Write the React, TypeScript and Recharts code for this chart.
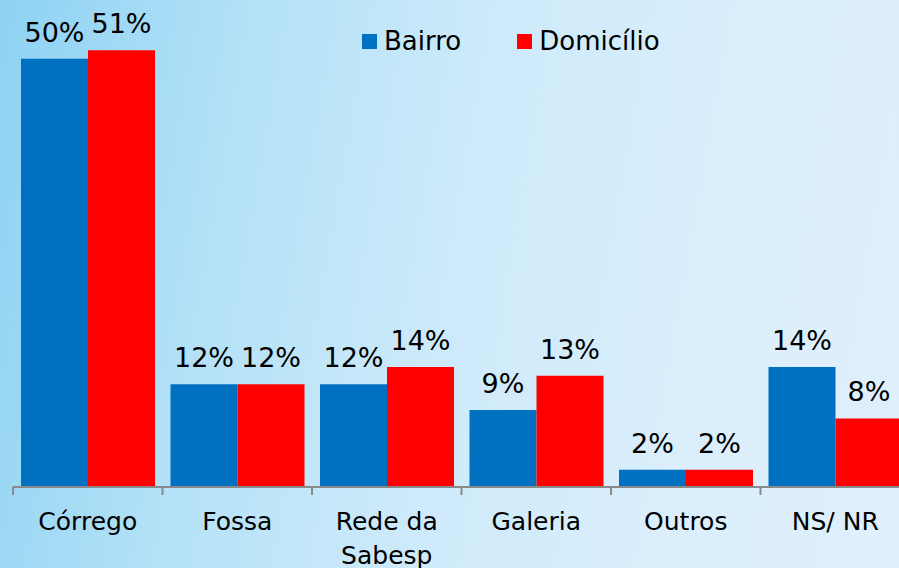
import { BarChart, Bar, XAxis, YAxis, Legend, LabelList } from 'recharts';

const categories = ['Córrego', 'Fossa', 'Rede da Sabesp', 'Galeria', 'Outros', 'NS/ NR'];
const bairro = [50, 12, 12, 9, 2, 14];
const domicilio = [51, 12, 14, 13, 2, 8];
const seriesNames = ['Bairro', 'Domicílio'];
const seriesColors = ['#0070C0', '#FF0000'];

const data = categories.map((name, i) => ({ name, bairro: bairro[i], domicilio: domicilio[i] }));

const FONT = '"DejaVu Sans", Verdana, sans-serif';
const AXIS = '#8a8a8a';

function wrap(text: string, max = 8) {
  const lines: string[] = [];
  let cur = '';
  for (const w of text.split(' ')) {
    const next = cur ? `${cur} ${w}` : w;
    if (next.length > max && cur) {
      lines.push(cur);
      cur = w;
    } else cur = next;
  }
  if (cur) lines.push(cur);
  return lines;
}

// tick marks sit on the category boundaries, labels in the middle
function CategoryTick({ x, y, payload }: any) {
  const lines = wrap(String(payload.value));
  const half = payload.offset || 74.75;
  const bx = x - half;
  return (
    <g>
      <line x1={bx} x2={bx} y1={y - 8} y2={y} stroke={AXIS} strokeWidth={2} />
      <text x={x} y={y} textAnchor="middle" fill="#000" fontSize={25} fontFamily={FONT}>
        {lines.map((l, i) => (
          <tspan key={l} x={x} dy={i === 0 ? 35 : 34}>{l}</tspan>
        ))}
      </text>
    </g>
  );
}

function LegendBox() {
  return (
    <div style={{ display: 'flex', alignItems: 'center', fontFamily: FONT, fontSize: 26, color: '#000' }}>
      {seriesNames.map((n, i) => (
        <div key={n} style={{ display: 'flex', alignItems: 'center', marginRight: i === 0 ? 56 : 0 }}>
          <span style={{ width: 15, height: 15, background: seriesColors[i], display: 'inline-block', marginRight: 7 }} />
          <span>{n}</span>
        </div>
      ))}
    </div>
  );
}

export default function App() {
  return (
    <div
      style={{
        position: 'absolute', left: 0, top: 0, width: 899, height: 568, overflow: 'hidden',
        background: 'linear-gradient(100deg, #8ed2f3 0%, #b3e1f7 25%, #cdeafa 50%, #daeefb 75%, #e0f0fc 100%)',
      }}
    >
      <BarChart
        width={940}
        height={568}
        data={data}
        margin={{ top: 16, right: 30, left: 13, bottom: 0 }}
        barCategoryGap={8}
        barGap={0}
      >
        <XAxis
          dataKey="name"
          height={81}
          interval={0}
          stroke={AXIS}
          strokeWidth={2}
          tickSize={8}
          tickMargin={0}
          tickLine={false}
          tick={<CategoryTick />}
        />
        <YAxis hide domain={[0, 55]} />
        <Legend
          verticalAlign="middle"
          align="center"
          content={<LegendBox />}
          wrapperStyle={{ top: 26, left: 362, width: 'auto' }}
        />
        <Bar dataKey="bairro" name={seriesNames[0]} fill={seriesColors[0]} isAnimationActive={false}>
          <LabelList dataKey="bairro" position="top" offset={17} formatter={(v: any) => `${v}%`} fill="#000" fontSize={27} fontFamily={FONT} />
        </Bar>
        <Bar dataKey="domicilio" name={seriesNames[1]} fill={seriesColors[1]} isAnimationActive={false}>
          <LabelList dataKey="domicilio" position="top" offset={17} formatter={(v: any) => `${v}%`} fill="#000" fontSize={27} fontFamily={FONT} />
        </Bar>
      </BarChart>
    </div>
  );
}
